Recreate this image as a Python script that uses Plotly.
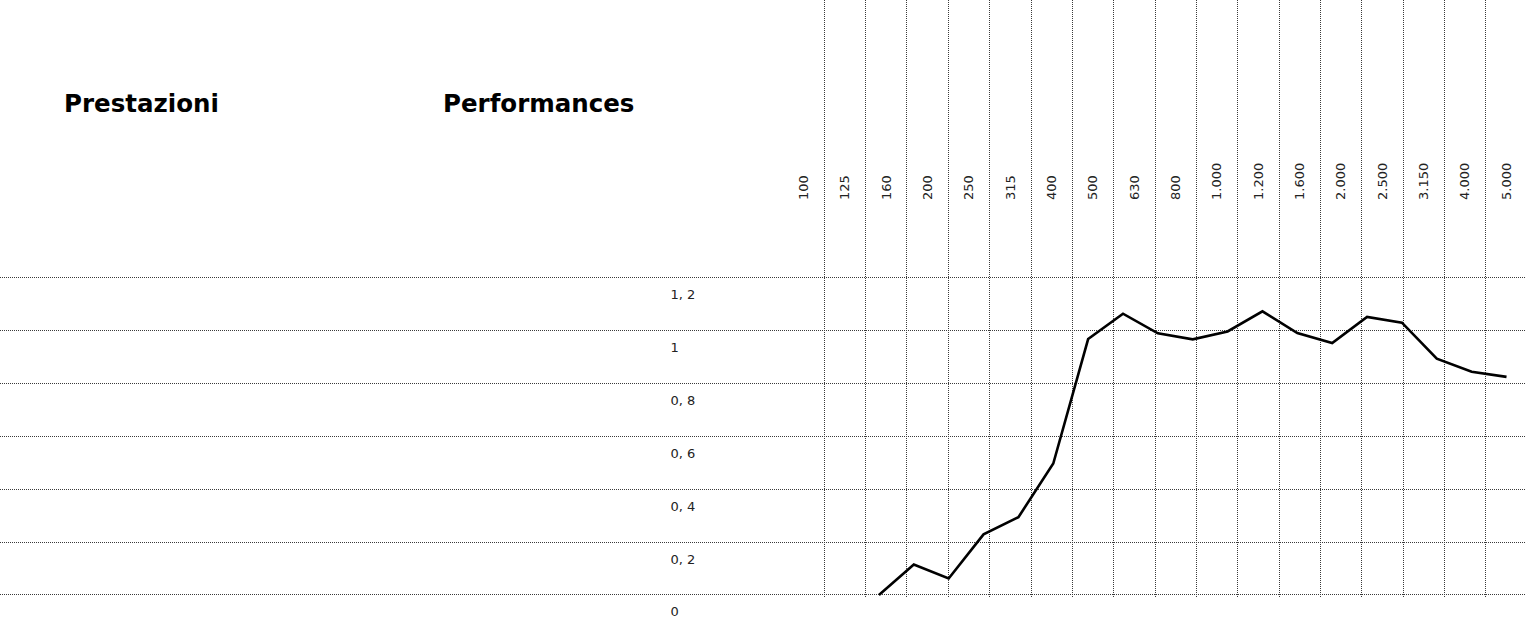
import plotly.graph_objects as go

# ---- data ----
freq_labels = ["100", "125", "160", "200", "250", "315", "400", "500", "630", "800",
               "1.000", "1.200", "1.600", "2.000", "2.500", "3.150", "4.000", "5.000"]
y_ticks = [0, 0.2, 0.4, 0.6, 0.8, 1.0, 1.2]
y_tick_text = ["0", "0, 2", "0, 4", "0, 6", "0, 8", "1", "1, 2"]
performance = [0.0, 0.115, 0.062, 0.229, 0.294, 0.497, 0.968, 1.064, 0.99, 0.967,
               0.997, 1.073, 0.991, 0.953, 1.052, 1.030, 0.894, 0.844, 0.825]
title_it = "Prestazioni"
title_en = "Performances"

GRID = "#3a3a3a"
TICKFONT = dict(family="DejaVu Sans", size=13, color="#222222")
TITLEFONT = dict(family="DejaVu Sans", size=24.5, weight="bold", color="#000000")

fig = go.Figure()
# category frame (empty trace so the category axis subplot exists)
fig.add_trace(go.Scatter(x=list(range(len(freq_labels))), y=[None] * len(freq_labels),
                         xaxis="x", yaxis="y", mode="lines", hoverinfo="skip"))
# performance curve on its own index axis
fig.add_trace(go.Scatter(x=list(range(len(performance))), y=performance,
                         xaxis="x2", yaxis="y", mode="lines",
                         line=dict(color="#000000", width=2.6), hoverinfo="skip"))

fig.update_layout(
    width=1525, height=618,
    margin=dict(l=0, r=0, t=0, b=21, autoexpand=False),
    paper_bgcolor="white", plot_bgcolor="white", showlegend=False,
    xaxis=dict(
        range=[-19.44, 17.45], tickmode="array",
        tickvals=list(range(len(freq_labels))), ticktext=freq_labels,
        tickangle=-90, side="top", anchor="free", position=0.665,
        showgrid=False, zeroline=False, showline=False, ticks="",
        tickfont=TICKFONT,
        minor=dict(tickvals=[i + 0.5 for i in range(len(freq_labels) - 1)],
                   showgrid=True, gridcolor=GRID, griddash="1px,1px",
                   gridwidth=1, ticks=""),
    ),
    xaxis2=dict(overlaying="x", range=[-25.21, 18.53], visible=False),
    yaxis=dict(
        range=[-0.0079, 2.2509], tickmode="array", tickvals=y_ticks,
        ticktext=y_tick_text, showgrid=True, gridcolor=GRID, griddash="1px,1px",
        gridwidth=1, zeroline=False, showline=False, ticks="",
        anchor="free", position=0.439, side="right", ticklabelshift=17,
        ticklabeloverflow="allow", tickfont=TICKFONT,
    ),
    annotations=[
        dict(text=title_it, xref="paper", yref="paper", x=62 / 1525, y=0.826,
             xanchor="left", yanchor="middle", showarrow=False, font=TITLEFONT),
        dict(text=title_en, xref="paper", yref="paper", x=441 / 1525, y=0.826,
             xanchor="left", yanchor="middle", showarrow=False, font=TITLEFONT),
    ],
)

fig.write_html("out.html", config={"displayModeBar": False},
               post_script="document.body.style.margin='0';document.body.style.overflow='hidden';")
